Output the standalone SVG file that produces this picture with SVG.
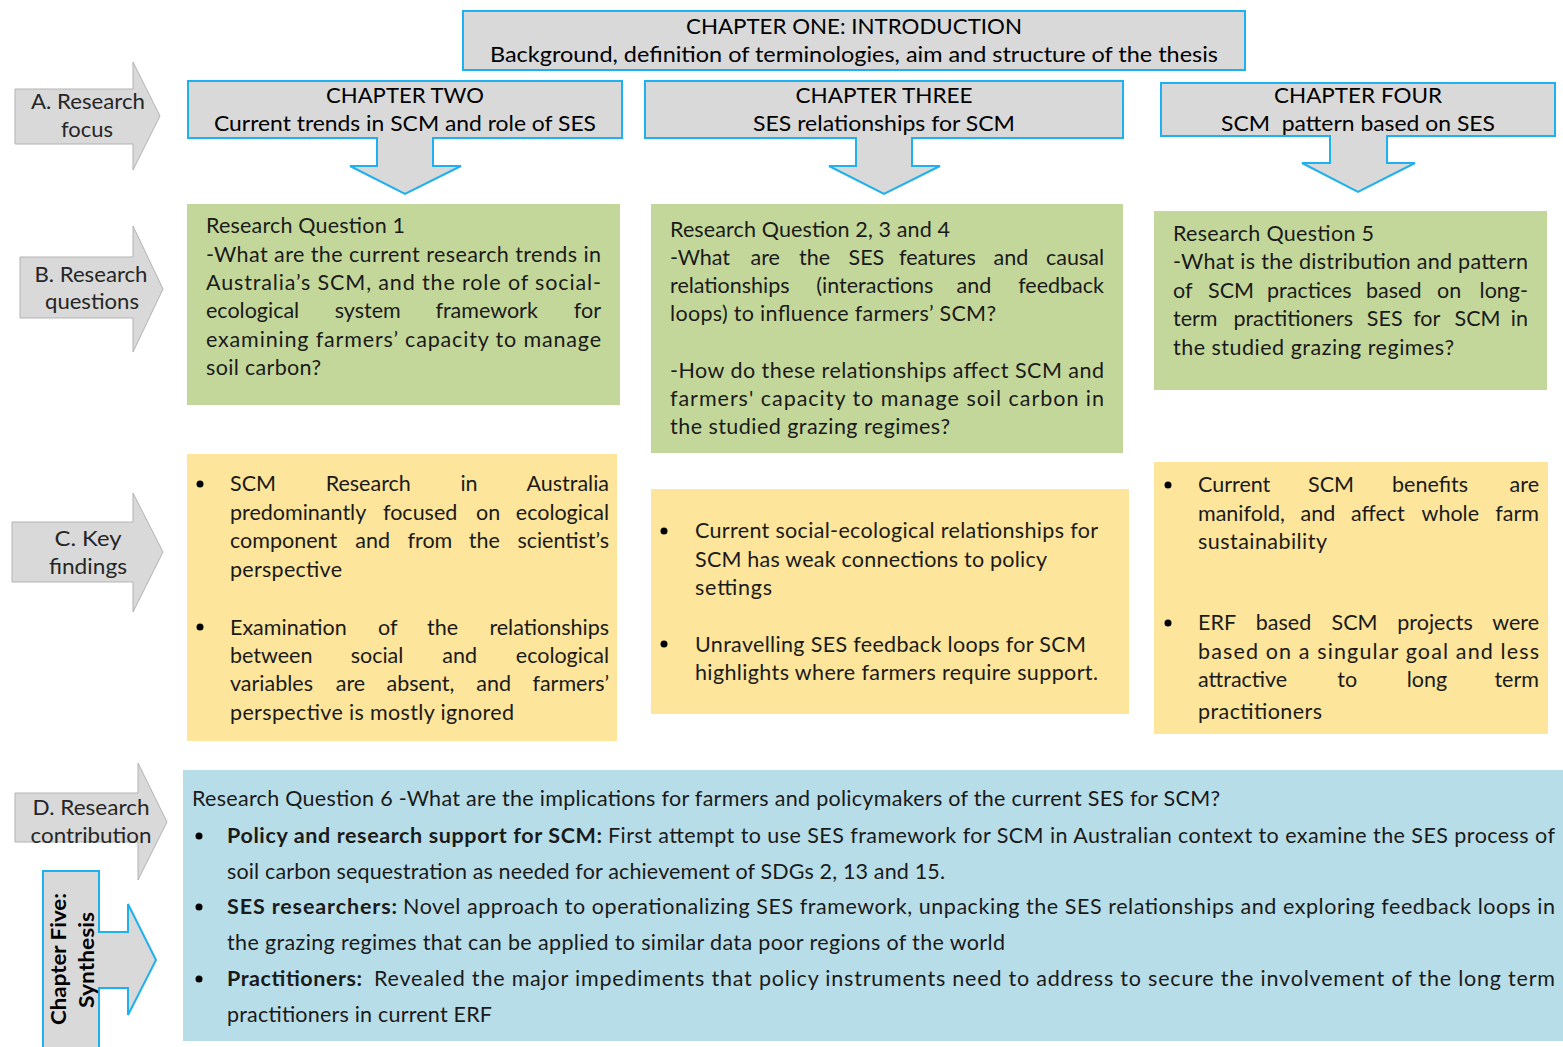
<svg xmlns="http://www.w3.org/2000/svg" width="1563" height="1047" viewBox="0 0 1563 1047">
<style>
.bg{fill:#ffffff}
.chap{fill:#d9d9d9;stroke:#1eb0ef;stroke-width:2}
.side{fill:#d9d9d9;stroke:#b3b3b3;stroke-width:1}
.green{fill:#c4d79b}
.yellow{fill:#fde59c}
.blue{fill:#b7dde8}
.h{font-family:Lato,"Open Sans","Liberation Sans",sans-serif;font-size:22px;fill:#000}
.s{font-family:Lato,"Open Sans","Liberation Sans",sans-serif;font-size:21px;fill:#262626}
.t{font-family:Lato,"Open Sans","Liberation Sans",sans-serif;font-size:21.5px;fill:#1a1a1a}
.bd{font-weight:bold}
.dot{fill:#000}
</style>
<rect class="bg" x="0" y="0" width="1563" height="1047"/>

<g id="chapter-one">
<rect class="chap" x="463" y="11" width="782" height="59"/>
<text class="h" x="854" y="34" text-anchor="middle" textLength="336" lengthAdjust="spacingAndGlyphs">CHAPTER ONE: INTRODUCTION</text>
<text class="h" x="854" y="62" text-anchor="middle" textLength="728" lengthAdjust="spacingAndGlyphs">Background, definition of terminologies, aim and structure of the thesis</text>
</g>

<g id="chapter-two">
<path class="chap" d="M188,81 H622 V138 H433 V166 H461 L405,194 L350,166 H377 V138 H188 Z"/>
<text class="h" x="405" y="103" text-anchor="middle" textLength="158" lengthAdjust="spacingAndGlyphs">CHAPTER TWO</text>
<text class="h" x="405" y="131" text-anchor="middle" textLength="382" lengthAdjust="spacingAndGlyphs">Current trends in SCM and role of SES</text>
</g>

<g id="chapter-three">
<path class="chap" d="M645,81 H1123 V138 H912 V166 H940 L884,194 L829,166 H856 V138 H645 Z"/>
<text class="h" x="884" y="103" text-anchor="middle" textLength="177" lengthAdjust="spacingAndGlyphs">CHAPTER THREE</text>
<text class="h" x="884" y="131" text-anchor="middle" textLength="262" lengthAdjust="spacingAndGlyphs">SES relationships for SCM</text>
</g>

<g id="chapter-four">
<path class="chap" d="M1161,83 H1555 V136 H1387 V163 H1415 L1358,192 L1302,163 H1330 V136 H1161 Z"/>
<text class="h" x="1358" y="103" text-anchor="middle" textLength="168" lengthAdjust="spacingAndGlyphs">CHAPTER FOUR</text>
<text class="h" x="1358" y="131" text-anchor="middle" textLength="274" lengthAdjust="spacingAndGlyphs" xml:space="preserve">SCM  pattern based on SES</text>
</g>

<g id="label-a">
<path class="side" d="M15,89 H133 V62 L160,116 L133,170 V144 H15 Z"/>
<text class="s" x="88" y="109" text-anchor="middle" textLength="114" lengthAdjust="spacingAndGlyphs">A. Research</text>
<text class="s" x="87" y="137" text-anchor="middle" textLength="52" lengthAdjust="spacingAndGlyphs">focus</text>
</g>

<g id="label-b">
<path class="side" d="M20,257 H133 V226 L163,289 L133,352 V318 H20 Z"/>
<text class="s" x="91" y="282" text-anchor="middle" textLength="113" lengthAdjust="spacingAndGlyphs">B. Research</text>
<text class="s" x="92" y="309" text-anchor="middle" textLength="94" lengthAdjust="spacingAndGlyphs">questions</text>
</g>

<g id="label-c">
<path class="side" d="M12,522 H133 V493 L163,552 L133,612 V582 H12 Z"/>
<text class="s" x="88" y="546" text-anchor="middle" textLength="67" lengthAdjust="spacingAndGlyphs">C. Key</text>
<text class="s" x="88" y="574" text-anchor="middle" textLength="78" lengthAdjust="spacingAndGlyphs">findings</text>
</g>

<g id="label-d">
<path class="side" d="M15,793 H138 V763 L167,822 L138,880 V842 H15 Z"/>
<text class="s" x="91" y="815" text-anchor="middle" textLength="117" lengthAdjust="spacingAndGlyphs">D. Research</text>
<text class="s" x="91" y="843" text-anchor="middle" textLength="121" lengthAdjust="spacingAndGlyphs">contribution</text>
</g>

<g id="chapter-five">
<path class="chap" d="M43,1050 V871 H99 V932 H128 V904 L156,960 L128,1015 V988 H99 V1050"/>
<text class="s bd" transform="translate(66,959) rotate(-90)" text-anchor="middle" textLength="132" lengthAdjust="spacingAndGlyphs" style="fill:#000">Chapter Five:</text>
<text class="s bd" transform="translate(94,960) rotate(-90)" text-anchor="middle" textLength="96" lengthAdjust="spacingAndGlyphs" style="fill:#000">Synthesis</text>
</g>

<g id="rq1">
<rect class="green" x="187" y="204" width="433" height="201"/>
<text class="t" x="206" y="233" textLength="199">Research Question 1</text>
<text class="t" x="206" y="262" textLength="395">-What are the current research trends in</text>
<text class="t" x="206" y="290" textLength="395">Australia’s SCM, and the role of social-</text>
<text class="t" y="318"><tspan x="206">ecological</tspan><tspan x="334.7">system</tspan><tspan x="435.4">framework</tspan><tspan x="601" text-anchor="end">for</tspan></text>
<text class="t" x="206" y="347" textLength="395">examining farmers’ capacity to manage</text>
<text class="t" x="206" y="375" textLength="115">soil carbon?</text>
</g>

<g id="rq234">
<rect class="green" x="651" y="204" width="472" height="249"/>
<text class="t" x="670" y="237" textLength="280">Research Question 2, 3 and 4</text>
<text class="t" y="265"><tspan x="670">-What</tspan><tspan x="750.5">are</tspan><tspan x="799">the</tspan><tspan x="848.5">SES</tspan><tspan x="899">features</tspan><tspan x="993.5">and</tspan><tspan x="1104" text-anchor="end">causal</tspan></text>
<text class="t" y="293"><tspan x="670">relationships</tspan><tspan x="816.3">(interactions</tspan><tspan x="956.6">and</tspan><tspan x="1104" text-anchor="end">feedback</tspan></text>
<text class="t" x="670" y="321" textLength="326">loops) to influence farmers’ SCM?</text>
<text class="t" x="670" y="378" textLength="434">-How do these relationships affect SCM and</text>
<text class="t" x="670" y="406" textLength="434">farmers' capacity to manage soil carbon in</text>
<text class="t" x="670" y="434" textLength="280">the studied grazing regimes?</text>
</g>

<g id="rq5">
<rect class="green" x="1154" y="211" width="393" height="179"/>
<text class="t" x="1173" y="241" textLength="201">Research Question 5</text>
<text class="t" x="1173" y="269" textLength="355">-What is the distribution and pattern</text>
<text class="t" y="298"><tspan x="1173">of</tspan><tspan x="1208">SCM</tspan><tspan x="1267">practices</tspan><tspan x="1366">based</tspan><tspan x="1437">on</tspan><tspan x="1528" text-anchor="end">long-</tspan></text>
<text class="t" y="326"><tspan x="1173">term</tspan><tspan x="1233.4">practitioners</tspan><tspan x="1366.8">SES</tspan><tspan x="1413.2">for</tspan><tspan x="1454.6">SCM</tspan><tspan x="1528" text-anchor="end">in</tspan></text>
<text class="t" x="1173" y="355" textLength="281">the studied grazing regimes?</text>
</g>

<g id="findings-2">
<rect class="yellow" x="187" y="454" width="430" height="287"/>
<circle class="dot" cx="200" cy="484" r="3.5"/>
<text class="t" y="491"><tspan x="230">SCM</tspan><tspan x="325.7">Research</tspan><tspan x="460.4">in</tspan><tspan x="609" text-anchor="end">Australia</tspan></text>
<text class="t" y="520"><tspan x="230">predominantly</tspan><tspan x="383">focused</tspan><tspan x="476">on</tspan><tspan x="609" text-anchor="end">ecological</tspan></text>
<text class="t" y="548"><tspan x="230">component</tspan><tspan x="355.3">and</tspan><tspan x="407.5">from</tspan><tspan x="468.8">the</tspan><tspan x="609" text-anchor="end">scientist’s</tspan></text>
<text class="t" x="230" y="577" textLength="112">perspective</text>
<circle class="dot" cx="200" cy="627" r="3.5"/>
<text class="t" y="635"><tspan x="230">Examination</tspan><tspan x="378">of</tspan><tspan x="427">the</tspan><tspan x="609" text-anchor="end">relationships</tspan></text>
<text class="t" y="663"><tspan x="230">between</tspan><tspan x="350.7">social</tspan><tspan x="442.3">and</tspan><tspan x="609" text-anchor="end">ecological</tspan></text>
<text class="t" y="691"><tspan x="230">variables</tspan><tspan x="335.8">are</tspan><tspan x="386.5">absent,</tspan><tspan x="476.3">and</tspan><tspan x="609" text-anchor="end">farmers’</tspan></text>
<text class="t" x="230" y="720" textLength="284">perspective is mostly ignored</text>
</g>

<g id="findings-3">
<rect class="yellow" x="651" y="489" width="478" height="225"/>
<circle class="dot" cx="664" cy="531" r="3.5"/>
<text class="t" x="695" y="538" textLength="403">Current social-ecological relationships for</text>
<text class="t" x="695" y="567" textLength="352">SCM has weak connections to policy</text>
<text class="t" x="695" y="595" textLength="77">settings</text>
<circle class="dot" cx="664" cy="644" r="3.5"/>
<text class="t" x="695" y="652" textLength="391">Unravelling SES feedback loops for SCM</text>
<text class="t" x="695" y="680" textLength="403">highlights where farmers require support.</text>
</g>

<g id="findings-4">
<rect class="yellow" x="1154" y="462" width="394" height="272"/>
<circle class="dot" cx="1168" cy="485" r="3.5"/>
<text class="t" y="492"><tspan x="1198">Current</tspan><tspan x="1308">SCM</tspan><tspan x="1392">benefits</tspan><tspan x="1539" text-anchor="end">are</tspan></text>
<text class="t" y="521"><tspan x="1198">manifold,</tspan><tspan x="1300.5">and</tspan><tspan x="1351">affect</tspan><tspan x="1421.5">whole</tspan><tspan x="1539" text-anchor="end">farm</tspan></text>
<text class="t" x="1198" y="549" textLength="129">sustainability</text>
<circle class="dot" cx="1168" cy="623" r="3.5"/>
<text class="t" y="630"><tspan x="1198">ERF</tspan><tspan x="1255.8">based</tspan><tspan x="1331.5">SCM</tspan><tspan x="1397.3">projects</tspan><tspan x="1539" text-anchor="end">were</tspan></text>
<text class="t" x="1198" y="659" textLength="341">based on a singular goal and less</text>
<text class="t" y="687"><tspan x="1198">attractive</tspan><tspan x="1337.3">to</tspan><tspan x="1406.7">long</tspan><tspan x="1539" text-anchor="end">term</tspan></text>
<text class="t" x="1198" y="719" textLength="124">practitioners</text>
</g>

<g id="contribution">
<rect class="blue" x="183" y="770" width="1380" height="271"/>
<text class="t" x="192" y="806" textLength="1028">Research Question 6 -What are the implications for farmers and policymakers of the current SES for SCM?</text>
<circle class="dot" cx="199" cy="836" r="3.5"/>
<text class="t bd" x="227" y="843" textLength="375">Policy and research support for SCM:</text>
<text class="t" x="608" y="843" textLength="947">First attempt to use SES framework for SCM  in Australian context to examine the SES process of</text>
<text class="t" x="227" y="879" textLength="718">soil carbon sequestration as needed for achievement of SDGs 2, 13 and 15.</text>
<circle class="dot" cx="199" cy="907" r="3.5"/>
<text class="t bd" x="227" y="914" textLength="170">SES researchers:</text>
<text class="t" x="403" y="914" textLength="1152">Novel approach to operationalizing SES framework, unpacking the SES relationships and exploring feedback loops  in</text>
<text class="t" x="227" y="950" textLength="778">the grazing regimes that can be applied to similar data poor regions of the world</text>
<circle class="dot" cx="199" cy="979" r="3.5"/>
<text class="t bd" x="227" y="986" textLength="135">Practitioners:</text>
<text class="t" x="374" y="986" textLength="1181">Revealed the major impediments that policy instruments need to address to secure the involvement of the long term</text>
<text class="t" x="227" y="1022" textLength="265">practitioners in current ERF</text>
</g>

<g id="connectors"></g>
</svg>
